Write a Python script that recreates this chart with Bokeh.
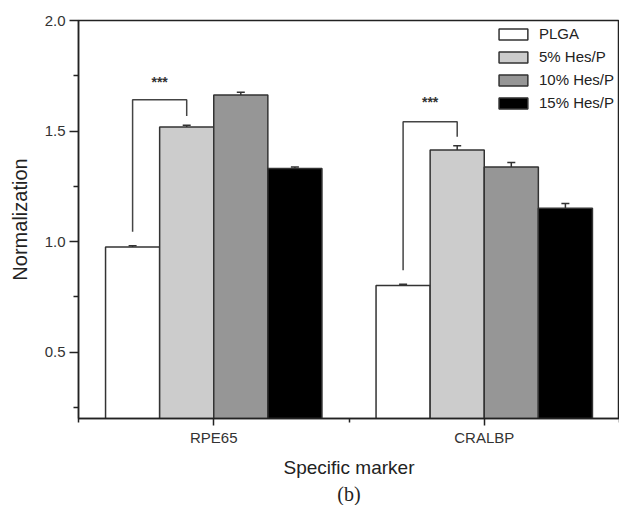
from bokeh.plotting import figure
from bokeh.models import (FixedTicker, ColumnDataSource, Whisker, TeeHead, Title,
                          Legend, LegendItem)
from bokeh.core.properties import value
from bokeh.embed import file_html
from bokeh.resources import INLINE

# ---- data ----
categories = ["RPE65", "CRALBP"]
series = ["PLGA", "5% Hes/P", "10% Hes/P", "15% Hes/P"]
values_plga = [0.976, 0.802]
values_5 = [1.518, 1.414]
values_10 = [1.663, 1.338]
values_15 = [1.331, 1.151]
err_plga = [0.005, 0.005]
err_5 = [0.008, 0.020]
err_10 = [0.012, 0.020]
err_15 = [0.006, 0.021]
colors = ["#ffffff", "#cccccc", "#969696", "#000000"]

# significance brackets (PLGA vs 5% Hes/P in each category)
sig_cat = [0, 1]
sig_left_foot = [1.045, 0.870]
sig_top = [1.642, 1.542]
sig_right_foot = [1.568, 1.474]
sig_star_level = [1.722, 1.633]
sig_text = ["***", "***"]

y_major = [0.5, 1.0, 1.5, 2.0]
y_minor = [0.25, 0.75, 1.25, 1.75]

all_vals = [values_plga, values_5, values_10, values_15]
all_errs = [err_plga, err_5, err_10, err_15]

FONT = "Liberation Sans"
bar_w = 0.2
offsets = [(j - 1.5) * bar_w for j in range(len(series))]

p = figure(width=619, height=505, output_backend="svg", toolbar_location=None,
           x_range=(0, len(categories)), y_range=(0.2, 2.0),
           min_border_left=78, min_border_right=0, min_border_top=20,
           min_border_bottom=87)

p.background_fill_color = "white"
p.border_fill_color = "white"
p.outline_line_color = "#222222"
p.outline_line_width = 1.5
p.xgrid.visible = False
p.ygrid.visible = False

legend_items = []
for j, name in enumerate(series):
    xs = [i + 0.5 + offsets[j] for i in range(len(categories))]
    src = ColumnDataSource(dict(x=xs, top=all_vals[j],
                                upper=[v + e for v, e in zip(all_vals[j], all_errs[j])]))
    r = p.vbar(x="x", top="top", bottom=0, width=bar_w, source=src,
               fill_color=colors[j], line_color="#333333", line_width=1.5)
    legend_items.append(LegendItem(label=name, renderers=[r]))
    w = Whisker(base="x", lower="top", upper="upper", source=src, dimension="height",
                line_color="#333333", line_width=1.5,
                upper_head=TeeHead(size=8, line_color="#333333", line_width=1.5),
                lower_head=None)
    p.add_layout(w)

# significance brackets
for k, ci in enumerate(sig_cat):
    xl = ci + 0.5 + offsets[0]
    xr = ci + 0.5 + offsets[1]
    p.line(x=[xl, xl, xr, xr],
           y=[sig_left_foot[k], sig_top[k], sig_top[k], sig_right_foot[k]],
           line_color="#444444", line_width=1.5)
    p.text(x=[(xl + xr) / 2], y=[sig_star_level[k]], text=[sig_text[k]],
           text_align="center", text_baseline="middle",
           text_font=value(FONT), text_font_size="14px", text_font_style="bold",
           text_color="#333333")

legend = Legend(items=legend_items, location="top_right",
                border_line_color=None, background_fill_alpha=0,
                glyph_width=36, glyph_height=14, label_height=14,
                spacing=6, label_standoff=8, padding=2, margin=5,
                label_text_font=FONT, label_text_font_size="15px",
                label_text_color="#222222")
p.add_layout(legend)

# x axis
p.xaxis.ticker = FixedTicker(ticks=[i + 0.5 for i in range(len(categories))],
                             minor_ticks=list(range(len(categories) + 1)))
p.xaxis.major_label_overrides = {i + 0.5: c for i, c in enumerate(categories)}
p.xaxis.axis_label = "Specific marker"
p.xaxis.major_tick_out = 7
p.xaxis.major_tick_in = 0
p.xaxis.minor_tick_out = 4
p.xaxis.minor_tick_in = 0
p.xaxis.major_label_standoff = 3
p.xaxis.axis_label_standoff = 8

# y axis
p.yaxis.ticker = FixedTicker(ticks=y_major, minor_ticks=y_minor)
p.yaxis.major_label_overrides = {v: f"{v:.1f}" for v in y_major}
p.yaxis.axis_label = "Normalization"
p.yaxis.major_tick_out = 9
p.yaxis.major_tick_in = 0
p.yaxis.minor_tick_out = 5
p.yaxis.minor_tick_in = 0
p.yaxis.major_label_standoff = 4
p.yaxis.axis_label_standoff = 11

for ax in (p.xaxis[0], p.yaxis[0]):
    ax.axis_line_color = "#222222"
    ax.axis_line_width = 1.5
    ax.major_tick_line_color = "#222222"
    ax.major_tick_line_width = 1.5
    ax.minor_tick_line_color = "#222222"
    ax.minor_tick_line_width = 1.5
    ax.major_label_text_font = FONT
    ax.major_label_text_font_size = "15px"
    ax.major_label_text_color = "#333333"
    ax.axis_label_text_font = FONT
    ax.axis_label_text_font_size = "19px"
    ax.axis_label_text_font_style = "normal"
    ax.axis_label_text_color = "#222222"
p.yaxis.axis_label_text_font_size = "20px"

p.add_layout(Title(text="(b)", align="center", text_font="Liberation Serif",
                   text_font_size="20px", text_font_style="normal",
                   text_color="#222222", standoff=0), "below")

open("out.html", "w").write(file_html(p, INLINE))
